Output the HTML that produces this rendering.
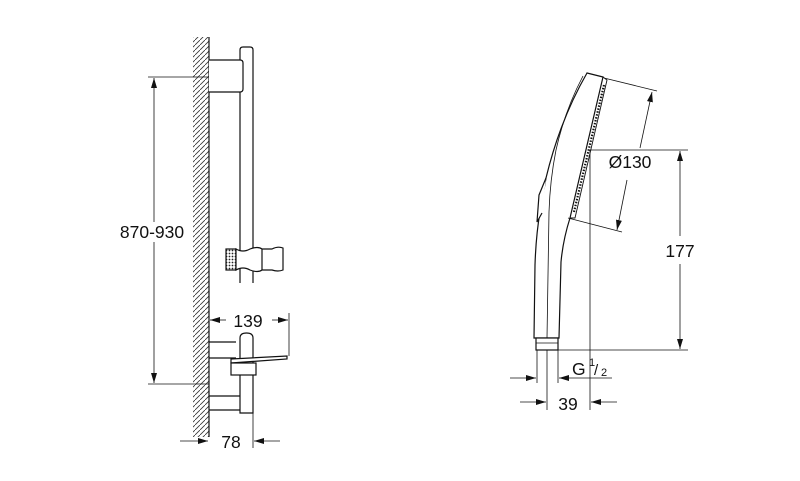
<!DOCTYPE html><html><head><style>html,body{margin:0;padding:0;background:#fff}svg{display:block}text{font-family:"Liberation Sans",sans-serif;fill:#111}</style></head><body>
<svg width="800" height="481" viewBox="0 0 800 481" xmlns="http://www.w3.org/2000/svg">
<defs>
<pattern id="h" width="5" height="5" patternUnits="userSpaceOnUse"><path d="M-1,6 L6,-1" stroke="#333" stroke-width="0.8"/></pattern>
<pattern id="d" width="3" height="3" patternUnits="userSpaceOnUse"><rect width="3" height="3" fill="#fff"/><circle cx="1.5" cy="1.5" r="0.9" fill="#222"/></pattern>
<marker id="a" viewBox="0 0 10 6" refX="10" refY="3" markerWidth="10" markerHeight="6" orient="auto" markerUnits="userSpaceOnUse"><path d="M0,0 L10,3 L0,6z" fill="#111"/></marker>
</defs>
<g stroke="#111" stroke-width="1.2" fill="none">
<rect x="193" y="37" width="16" height="400" fill="url(#h)" stroke="none"/>
<line x1="209" y1="37" x2="209" y2="437"/>
<path d="M240,283 V50 Q240,47 243,47 H250 Q253,47 253,50 V283" fill="#fff"/>
<path d="M240,413 V338 Q240,333 246.5,333 Q253,333 253,338 V413 Z" fill="#fff"/>
<path d="M209,60 H240 Q243,60 243,63 V89 Q243,92 240,92 H209" fill="#fff"/>
<path d="M209,342 H236 M209,358 H236"/>
<path d="M209,396 H240 M209,410 H240"/>
<rect x="226" y="249" width="10" height="21" fill="url(#d)"/>
<path d="M236,249 Q243,253 250,249 Q258,246 262,249 H272 Q278,246 283,248 V270 Q278,272 272,270 H262 Q258,273 250,270 Q243,266 236,270 Z" fill="#fff"/>
<line x1="262" y1="249" x2="262" y2="270"/>
<path d="M231,359 L287,356 V359 L231,363 Z" fill="#fff"/>
<rect x="231" y="363" width="25" height="12" fill="#fff"/>
<line x1="148" y1="77" x2="209" y2="77" stroke-width="0.8"/>
<line x1="148" y1="384" x2="209" y2="384" stroke-width="0.8"/>
<line x1="154" y1="222" x2="154" y2="78" stroke-width="0.8" marker-end="url(#a)"/>
<line x1="154" y1="242" x2="154" y2="383" stroke-width="0.8" marker-end="url(#a)"/>
<line x1="226" y1="320" x2="210" y2="320" stroke-width="0.8" marker-end="url(#a)"/>
<line x1="272" y1="320" x2="288" y2="320" stroke-width="0.8" marker-end="url(#a)"/>
<line x1="289" y1="313" x2="289" y2="356" stroke-width="0.8"/>
<line x1="180" y1="441" x2="208" y2="441" stroke-width="0.8" marker-end="url(#a)"/>
<line x1="280" y1="441" x2="254" y2="441" stroke-width="0.8" marker-end="url(#a)"/>
<line x1="253" y1="413" x2="253" y2="448" stroke-width="0.8"/>
<!-- handshower -->
<path d="M587,73 L603,77 L570,218 Q563,240 561,262 L559,338 H534 L535,265 Q536,235 540,212 L546,178 Q560,120 587,73 Z" fill="#fff"/>
<path d="M583,76 Q565,110 556,150 Q550,180 549,212 Q548,260 547,338" stroke-width="0.8"/>
<path d="M603,77 L607,80 L575,218 L570,218" stroke-width="0.9"/>
<path d="M604,85 L574,212" stroke-width="2.2" stroke-dasharray="1.5,1.5"/>
<path d="M546,178 L539,195 L537,222 L542,213" fill="#fff"/>
<rect x="536" y="338" width="22" height="12" fill="#fff"/>
<line x1="536" y1="343" x2="558" y2="343" stroke-width="0.8"/>
<line x1="537" y1="350" x2="537" y2="383" stroke-width="0.8"/>
<line x1="558" y1="350" x2="558" y2="383" stroke-width="0.8"/>
<line x1="547" y1="350" x2="547" y2="410" stroke-width="0.8"/>
<line x1="590" y1="150" x2="590" y2="410" stroke-width="0.8"/>
<line x1="590" y1="150" x2="688" y2="150" stroke-width="0.8"/>
<line x1="558" y1="350" x2="688" y2="350" stroke-width="0.8"/>
<line x1="680" y1="236" x2="680" y2="151" stroke-width="0.8" marker-end="url(#a)"/>
<line x1="680" y1="264" x2="680" y2="349" stroke-width="0.8" marker-end="url(#a)"/>
<line x1="604" y1="78" x2="657" y2="91" stroke-width="0.8"/>
<line x1="568" y1="218" x2="622" y2="232" stroke-width="0.8"/>
<line x1="640" y1="148" x2="652" y2="92" stroke-width="0.8" marker-end="url(#a)"/>
<line x1="627" y1="180" x2="617" y2="230" stroke-width="0.8" marker-end="url(#a)"/>
<line x1="510" y1="378" x2="536" y2="378" stroke-width="0.8" marker-end="url(#a)"/>
<line x1="612" y1="378" x2="559" y2="378" stroke-width="0.8" marker-end="url(#a)"/>
<line x1="520" y1="402" x2="546" y2="402" stroke-width="0.8" marker-end="url(#a)"/>
<line x1="617" y1="402" x2="591" y2="402" stroke-width="0.8" marker-end="url(#a)"/>
</g>
<text x="152" y="238" font-size="17.5" text-anchor="middle" stroke="#fff" stroke-width="6" paint-order="stroke">870-930</text>
<text x="248" y="327" font-size="17.5" text-anchor="middle">139</text>
<text x="231" y="448" font-size="17.5" text-anchor="middle">78</text>
<text x="630" y="168" font-size="17.5" text-anchor="middle" stroke="#fff" stroke-width="6" paint-order="stroke">Ø130</text>
<text x="680" y="257" font-size="17.5" text-anchor="middle" stroke="#fff" stroke-width="6" paint-order="stroke">177</text>
<text x="572" y="375" font-size="17.5">G</text>
<text x="589" y="366" font-size="11">1</text>
<text x="594" y="375" font-size="15">/</text>
<text x="601" y="376" font-size="11">2</text>
<text x="568" y="410" font-size="17.5" text-anchor="middle">39</text>
</svg></body></html>
